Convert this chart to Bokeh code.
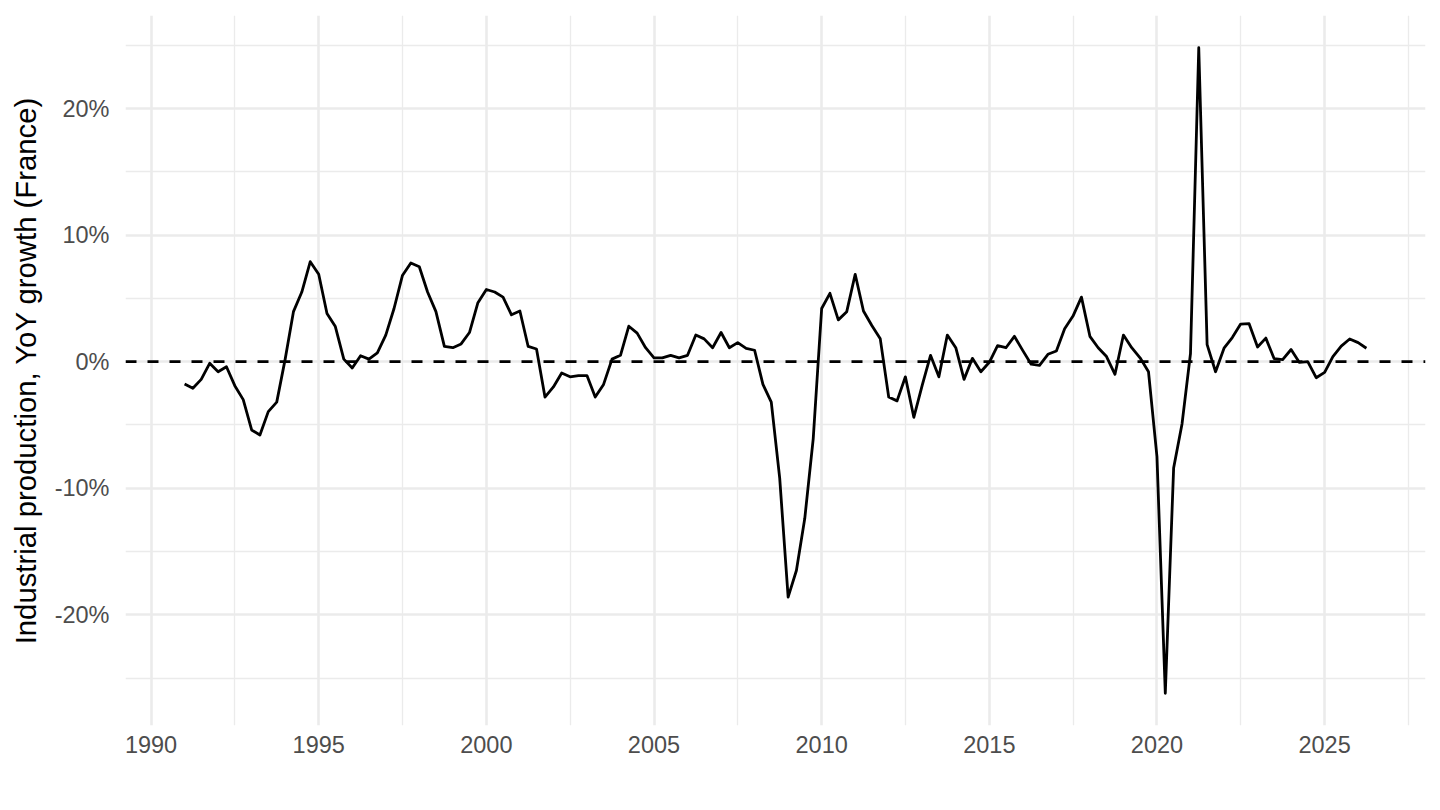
import pandas as pd
from bokeh.plotting import figure
from bokeh.models import Range1d, FixedTicker, Span, ColumnDataSource
from bokeh.embed import file_html
from bokeh.resources import INLINE

# Quarterly YoY growth of French industrial production (%), 1991Q1 .. 2026Q2
quarters = pd.period_range("1991Q1", "2026Q2", freq="Q")
yoy_growth = [
    -1.76, -2.1, -1.4, -0.13,     # 1991
    -0.8, -0.4, -1.9, -3.0,       # 1992
    -5.4, -5.8, -3.95, -3.2,      # 1993
    0.2, 3.95, 5.5, 7.9,          # 1994
    6.9, 3.8, 2.77, 0.2,          # 1995
    -0.5, 0.47, 0.2, 0.7,         # 1996
    2.1, 4.2, 6.8, 7.8,           # 1997
    7.5, 5.5, 3.95, 1.2,          # 1998
    1.1, 1.4, 2.3, 4.66,          # 1999
    5.7, 5.5, 5.1, 3.7,           # 2000
    4.0, 1.2, 1.0, -2.8,          # 2001
    -2.0, -0.9, -1.2, -1.1,       # 2002
    -1.1, -2.8, -1.8, 0.2,        # 2003
    0.5, 2.8, 2.25, 1.1,          # 2004
    0.3, 0.3, 0.5, 0.3,           # 2005
    0.5, 2.1, 1.8, 1.1,           # 2006
    2.3, 1.1, 1.5, 1.05,          # 2007
    0.9, -1.8, -3.2, -9.2,        # 2008
    -18.6, -16.5, -12.4, -6.1,    # 2009
    4.2, 5.4, 3.3, 3.95,          # 2010
    6.9, 4.0, 2.85, 1.8,          # 2011
    -2.8, -3.1, -1.2, -4.4,       # 2012
    -1.85, 0.5, -1.2, 2.1,        # 2013
    1.1, -1.4, 0.26, -0.8,        # 2014
    -0.05, 1.26, 1.1, 2.0,        # 2015
    0.87, -0.2, -0.3, 0.58,       # 2016
    0.84, 2.6, 3.6, 5.1,          # 2017
    2.0, 1.1, 0.4, -1.0,          # 2018
    2.1, 1.1, 0.3, -0.8,          # 2019
    -7.5, -26.2, -8.4, -4.9,      # 2020
    0.64, 24.8, 1.34, -0.8,       # 2021
    1.06, 1.9, 2.97, 3.0,         # 2022
    1.16, 1.86, 0.23, 0.16,       # 2023
    0.96, -0.06, 0.0, -1.27,      # 2024
    -0.85, 0.4, 1.23, 1.79,       # 2025
    1.5, 1.06,                    # 2026
]

x_ticks = [1990, 1995, 2000, 2005, 2010, 2015, 2020, 2025]
x_minor_ticks = [1992.5, 1997.5, 2002.5, 2007.5, 2012.5, 2017.5, 2022.5, 2027.5]
y_ticks = [-20, -10, 0, 10, 20]
y_tick_labels = ["-20%", "-10%", "0%", "10%", "20%"]
y_minor_ticks = [-25, -15, -5, 5, 15, 25]
y_title = "Industrial production, YoY growth (France)"

# decimal-year position of each quarter start
dates = [q.start_time for q in quarters]
xpos = [d.year + (d.dayofyear - 1) / (366 if d.is_leap_year else 365) for d in dates]
src = ColumnDataSource(dict(x=xpos, y=yoy_growth))

x_lo, x_hi = min(xpos), max(xpos)
y_lo, y_hi = min(yoy_growth), max(yoy_growth)
xe = (x_hi - x_lo) * 0.05
ye = (y_hi - y_lo) * 0.05

FONT = "Liberation Sans"
GRID = "#EBEBEB"

p = figure(width=1432, height=802, output_backend="svg", toolbar_location=None,
           x_range=Range1d(x_lo - xe, x_hi + xe), y_range=Range1d(y_lo - ye, y_hi + ye),
           min_border_left=125, min_border_right=7, min_border_top=15, min_border_bottom=77)
p.outline_line_color = None
p.background_fill_color = "white"
p.border_fill_color = "white"

xt = FixedTicker(ticks=x_ticks, minor_ticks=x_minor_ticks)
yt = FixedTicker(ticks=y_ticks, minor_ticks=y_minor_ticks)
p.xaxis.ticker = xt
p.yaxis.ticker = yt
p.xgrid.ticker = xt
p.ygrid.ticker = yt
p.yaxis.major_label_overrides = {t: l for t, l in zip(y_ticks, y_tick_labels)}

for ax in (p.xaxis, p.yaxis):
    ax.axis_line_color = None
    ax.major_tick_line_color = None
    ax.minor_tick_line_color = None
    ax.major_label_text_font = FONT
    ax.major_label_text_font_size = "23.5px"
    ax.major_label_text_color = "#4D4D4D"
p.xaxis.major_label_standoff = 4
p.yaxis.major_label_standoff = 10

p.yaxis.axis_label = y_title
p.yaxis.axis_label_text_font = FONT
p.yaxis.axis_label_text_font_size = "29.3px"
p.yaxis.axis_label_text_font_style = "normal"
p.yaxis.axis_label_text_color = "black"
p.yaxis.axis_label_standoff = 10

for g in (p.xgrid, p.ygrid):
    g.grid_line_color = GRID
    g.grid_line_width = 2.6
    g.minor_grid_line_color = GRID
    g.minor_grid_line_width = 1.3

p.add_layout(Span(location=0, dimension="width", line_color="black",
                  line_width=2.6, line_dash="11 11"))
p.line("x", "y", source=src, line_color="black", line_width=2.8, line_join="round")

open("out.html", "w").write(file_html(p, INLINE))
